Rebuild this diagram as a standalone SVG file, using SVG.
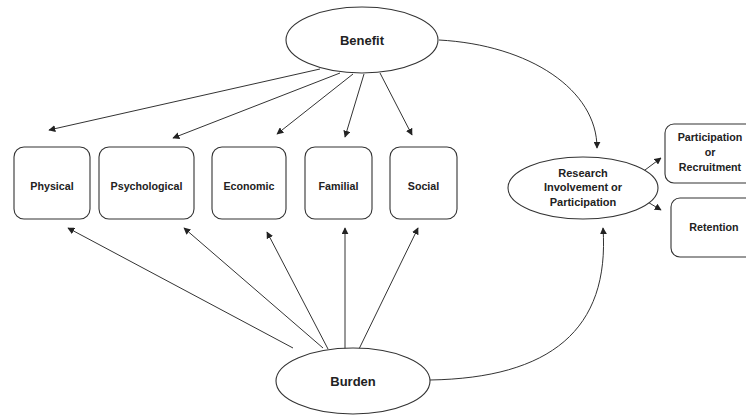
<svg xmlns="http://www.w3.org/2000/svg" width="746" height="417" viewBox="0 0 746 417">
<style>
.n{fill:#fff;stroke:#333;stroke-width:1.1}
.t{font-family:"Liberation Sans",Arial,sans-serif;font-weight:bold;fill:#222;text-anchor:middle;dominant-baseline:central}
.s{font-size:10.7px}
.m{font-size:11px}
.l{font-size:13px}
.c{fill:none;stroke:#333;stroke-width:1}
</style>
<defs>
<marker id="a" viewBox="0 0 10 10" refX="9" refY="5" markerWidth="7" markerHeight="7" markerUnits="userSpaceOnUse" orient="auto">
<path d="M0,0 L10,5 L0,10 z" fill="#222"/>
</marker>
</defs>
<rect width="746" height="417" fill="#fff"/>
<g id="connectors">
<path class="c" marker-end="url(#a)" d="M320,69 L49,130"/>
<path class="c" marker-end="url(#a)" d="M340,73 L173,138"/>
<path class="c" marker-end="url(#a)" d="M353,74 L277,134"/>
<path class="c" marker-end="url(#a)" d="M364,74 L345,137"/>
<path class="c" marker-end="url(#a)" d="M380,73 L412,135"/>
<path class="c" marker-end="url(#a)" d="M293,348 L68,228"/>
<path class="c" marker-end="url(#a)" d="M323,348 L184,228"/>
<path class="c" marker-end="url(#a)" d="M328,349 L267,232"/>
<path class="c" marker-end="url(#a)" d="M345,349 L345,228"/>
<path class="c" marker-end="url(#a)" d="M359,349 L418,228"/>
<path class="c" marker-end="url(#a)" d="M439,40 C530,45 597,90 597,148"/>
<path class="c" marker-end="url(#a)" d="M430,380 C550,378 610,330 603,228"/>
<path class="c" marker-end="url(#a)" d="M641,173 L661,158"/>
<path class="c" marker-end="url(#a)" d="M641,198 L661,210"/>
</g>
<g id="benefit"><ellipse class="n" cx="362" cy="40" rx="76" ry="33"/><text class="t l" x="362" y="40">Benefit</text></g>
<g id="burden"><ellipse class="n" cx="353" cy="381" rx="77" ry="33"/><text class="t l" x="353" y="381">Burden</text></g>
<g id="physical"><rect class="n" x="14" y="147" width="76" height="72" rx="10"/><text class="t s" x="52" y="186">Physical</text></g>
<g id="psychological"><rect class="n" x="99" y="147" width="95" height="72" rx="10"/><text class="t s" x="146.5" y="186">Psychological</text></g>
<g id="economic"><rect class="n" x="212" y="147" width="74" height="72" rx="10"/><text class="t s" x="249" y="186">Economic</text></g>
<g id="familial"><rect class="n" x="305" y="147" width="67" height="72" rx="10"/><text class="t s" x="338.5" y="186">Familial</text></g>
<g id="social"><rect class="n" x="390" y="147" width="67" height="72" rx="10"/><text class="t s" x="423.5" y="186">Social</text></g>
<g id="research"><ellipse class="n" cx="583" cy="188" rx="75" ry="31"/>
<text class="t m" x="583" y="173">Research</text>
<text class="t m" x="583" y="187">Involvement or</text>
<text class="t m" x="583" y="202">Participation</text></g>
<g id="recruitment"><rect class="n" x="665" y="124" width="95" height="59" rx="9"/>
<text class="t s" x="710" y="137">Participation</text>
<text class="t s" x="710" y="152">or</text>
<text class="t s" x="710" y="167">Recruitment</text></g>
<g id="retention"><rect class="n" x="671" y="198" width="95" height="59" rx="9"/><text class="t s" x="714" y="227">Retention</text></g>
</svg>
